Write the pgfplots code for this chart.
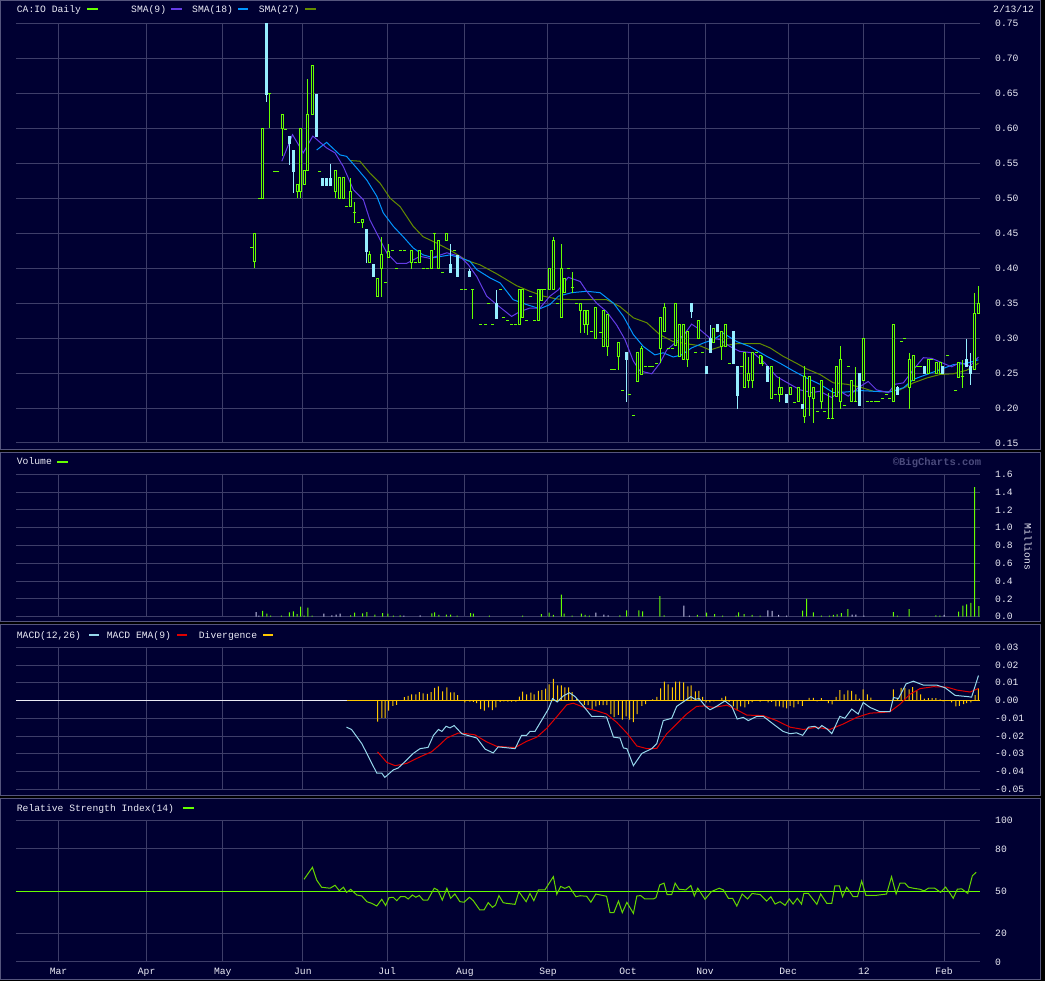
\documentclass[border=0pt]{standalone}
\usepackage{pgfplots}
\usepackage{pgfplotstable}
\pgfplotsset{compat=1.18}
\usepackage{fontspec}
\newfontfamily\mono{Liberation Mono}
\newcommand\tf{\mono\fontsize{9.7}{11}\selectfont}
\definecolor{cbg}{RGB}{0,0,50}
\definecolor{cgrid}{RGB}{62,62,105}
\definecolor{cborder}{RGB}{85,85,125}
\definecolor{cgreen}{RGB}{102,255,0}
\definecolor{ccyan}{RGB}{150,238,255}
\definecolor{cwhite}{RGB}{235,235,245}
\definecolor{csmaa}{RGB}{100,60,230}
\definecolor{csmab}{RGB}{0,150,255}
\definecolor{csmac}{RGB}{100,140,0}
\definecolor{cmacd}{RGB}{150,215,235}
\definecolor{cema}{RGB}{225,0,0}
\definecolor{cdiv}{RGB}{255,200,0}
\definecolor{crsi}{RGB}{102,215,0}
\definecolor{cvolw}{RGB}{200,200,235}
\definecolor{cwm}{RGB}{75,75,125}

% candles: x = trading day index; l h = low high; bl bh = body low/high
\pgfplotstableread{
x l h bl bh
62.4 0.40 0.45 0.41 0.45
64.4 0.50 0.60 0.50 0.60
69.5 0.56 0.62 0.60 0.62
73.4 0.50 0.52 0.51 0.52
74.3 0.50 0.60 0.51 0.60
75.2 0.52 0.54 0.52 0.54
76.1 0.54 0.67 0.54 0.62
77.4 0.62 0.69 0.62 0.69
83.4 0.50 0.54 0.51 0.54
84.4 0.50 0.53 0.50 0.53
85.5 0.50 0.53 0.50 0.53
87.3 0.488 0.529 0.488 0.509
90.5 0.458 0.469 0.465 0.469
92.2 0.408 0.424 0.408 0.419
94.4 0.359 0.385 0.359 0.385
95.4 0.359 0.445 0.399 0.419
97.2 0.415 0.435 0.415 0.424
103.3 0.399 0.425 0.408 0.425
105.4 0.408 0.425 0.408 0.425
108.5 0.399 0.425 0.399 0.425
110.3 0.399 0.439 0.399 0.439
112.4 0.439 0.449 0.439 0.449
131.4 0.319 0.369 0.319 0.369
132.2 0.329 0.369 0.329 0.369
136.4 0.325 0.369 0.325 0.369
137.1 0.354 0.369 0.354 0.369
139.3 0.369 0.399 0.369 0.399
140.3 0.369 0.445 0.369 0.439
142.5 0.329 0.435 0.329 0.399
143.2 0.365 0.385 0.365 0.385
147.3 0.308 0.349 0.339 0.349
148.4 0.308 0.339 0.319 0.339
149.2 0.304 0.339 0.319 0.339
151.3 0.299 0.344 0.299 0.344
153.4 0.288 0.339 0.288 0.339
154.4 0.274 0.334 0.288 0.334
157.2 0.255 0.294 0.274 0.294
162.3 0.238 0.279 0.238 0.279
163.3 0.248 0.289 0.248 0.285
168.2 0.265 0.329 0.285 0.329
169.3 0.309 0.350 0.309 0.344
172.1 0.289 0.349 0.289 0.349
173.2 0.274 0.319 0.274 0.319
174.2 0.269 0.319 0.269 0.319
175.3 0.259 0.309 0.269 0.309
178.2 0.299 0.325 0.299 0.325
182.2 0.294 0.314 0.294 0.314
184.2 0.269 0.309 0.288 0.309
185.3 0.288 0.319 0.288 0.319
190.2 0.229 0.279 0.229 0.279
191.3 0.229 0.273 0.239 0.249
192.3 0.229 0.279 0.239 0.279
194.4 0.264 0.275 0.264 0.275
197.2 0.214 0.259 0.214 0.259
199.3 0.208 0.245 0.219 0.229
200.0 0.219 0.229 0.219 0.229
202.2 0.219 0.229 0.219 0.229
204.2 0.209 0.229 0.209 0.229
206.0 0.179 0.260 0.188 0.245
207.1 0.188 0.245 0.217 0.245
208.1 0.179 0.229 0.214 0.229
210.3 0.199 0.239 0.209 0.239
214.2 0.217 0.259 0.217 0.259
215.2 0.199 0.289 0.209 0.269
218.1 0.209 0.239 0.209 0.239
221.2 0.239 0.299 0.239 0.299
229.1 0.209 0.319 0.209 0.319
233.3 0.199 0.279 0.229 0.269
234.3 0.239 0.275 0.239 0.275
238.3 0.249 0.269 0.249 0.269
240.4 0.249 0.265 0.249 0.265
241.3 0.249 0.265 0.249 0.265
246.1 0.244 0.265 0.244 0.265
250.2 0.255 0.365 0.255 0.335
251.3 0.335 0.375 0.335 0.349
}\greentab

\pgfplotstableread{
x l h bl bh
65.4 0.638 0.76 0.648 0.76
71.5 0.548 0.589 0.579 0.589
72.4 0.508 0.569 0.538 0.569
78.4 0.588 0.648 0.588 0.648
80.1 0.518 0.529 0.518 0.529
81.1 0.518 0.529 0.518 0.529
82.2 0.518 0.549 0.518 0.529
91.5 0.408 0.455 0.424 0.455
93.3 0.388 0.405 0.388 0.405
113.4 0.394 0.435 0.394 0.405
115.2 0.388 0.418 0.388 0.418
118.4 0.388 0.399 0.388 0.395
125.4 0.328 0.369 0.328 0.349
159.3 0.208 0.279 0.269 0.279
176.3 0.329 0.349 0.338 0.349
180.2 0.249 0.259 0.249 0.259
181.3 0.279 0.319 0.279 0.299
183.1 0.309 0.319 0.309 0.319
187.3 0.264 0.309 0.264 0.309
188.3 0.198 0.259 0.218 0.259
196.3 0.238 0.259 0.238 0.259
201.1 0.208 0.219 0.208 0.219
205.3 0.199 0.205 0.199 0.205
220.2 0.204 0.249 0.204 0.249
230.2 0.219 0.232 0.219 0.229
237.2 0.249 0.259 0.249 0.259
242.0 0.249 0.259 0.249 0.259
248.1 0.259 0.299 0.259 0.269
249.2 0.233 0.279 0.249 0.259
}\cyantab

\pgfplotstableread{
x y l h
61.4 0.429 0.429 0.429
63.5 0.499 0.499 0.499
66.3 0.650 0.600 0.650
67.4 0.539 0.539 0.539
68.4 0.539 0.539 0.539
70.3 0.599 0.599 0.599
79.3 0.539 0.539 0.539
86.2 0.488 0.488 0.488
88.3 0.479 0.464 0.495
89.3 0.465 0.465 0.465
96.4 0.379 0.379 0.379
98.3 0.425 0.425 0.425
99.3 0.399 0.399 0.399
100.4 0.425 0.425 0.425
101.4 0.425 0.425 0.425
104.3 0.408 0.408 0.408
106.4 0.399 0.399 0.399
107.4 0.399 0.399 0.399
109.2 0.449 0.426 0.449
111.3 0.394 0.394 0.394
114.4 0.425 0.425 0.425
116.4 0.369 0.369 0.369
117.4 0.369 0.369 0.369
119.3 0.369 0.328 0.369
121.4 0.319 0.319 0.319
122.5 0.319 0.319 0.319
123.4 0.349 0.349 0.349
124.4 0.319 0.319 0.319
126.6 0.369 0.369 0.369
127.3 0.329 0.329 0.329
128.3 0.325 0.325 0.325
129.4 0.319 0.319 0.319
130.4 0.319 0.319 0.319
133.3 0.325 0.325 0.325
134.4 0.359 0.359 0.359
135.3 0.325 0.325 0.325
138.1 0.369 0.369 0.369
141.4 0.349 0.349 0.349
144.2 0.399 0.399 0.399
145.2 0.372 0.365 0.395
146.4 0.349 0.349 0.349
150.3 0.309 0.309 0.309
152.6 0.308 0.308 0.308
155.4 0.255 0.255 0.255
156.2 0.255 0.255 0.255
158.3 0.225 0.225 0.225
160.2 0.219 0.219 0.219
161.2 0.189 0.189 0.189
164.4 0.259 0.259 0.259
165.4 0.259 0.259 0.259
166.3 0.259 0.259 0.259
167.3 0.264 0.264 0.264
170.3 0.285 0.285 0.285
171.3 0.285 0.285 0.285
177.3 0.279 0.279 0.279
179.2 0.279 0.279 0.279
186.3 0.264 0.264 0.264
189.3 0.259 0.259 0.259
193.3 0.279 0.279 0.279
195.0 0.264 0.260 0.275
198.2 0.219 0.219 0.219
203.2 0.208 0.208 0.208
209.3 0.195 0.195 0.195
211.2 0.195 0.195 0.195
212.1 0.185 0.185 0.222
213.1 0.185 0.185 0.229
216.4 0.204 0.204 0.204
217.3 0.259 0.259 0.259
219.3 0.209 0.209 0.259
222.3 0.209 0.209 0.209
223.3 0.209 0.209 0.209
224.3 0.209 0.209 0.209
225.3 0.209 0.209 0.209
226.3 0.214 0.214 0.214
227.2 0.219 0.219 0.219
228.0 0.214 0.214 0.214
231.2 0.295 0.295 0.295
232.1 0.299 0.299 0.299
235.3 0.259 0.259 0.259
236.2 0.259 0.259 0.259
239.1 0.269 0.269 0.269
243.3 0.275 0.275 0.275
245.4 0.225 0.225 0.225
247.2 0.245 0.228 0.269
}\dojitab

\pgfplotstableread{
x v
64.4 0.064
65.5 0.034
66.5 0.011
69.3 0.011
71.4 0.049
72.4 0.060
73.4 0.030
74.3 0.112
75.2 0.011
76.2 0.101
77.3 0.011
87.4 0.015
88.4 0.045
90.5 0.037
91.6 0.052
93.7 0.022
95.7 0.041
97.1 0.034
98.5 0.011
100.3 0.015
108.6 0.037
109.3 0.049
110.4 0.019
112.4 0.022
113.5 0.022
115.2 0.011
118.7 0.041
119.4 0.034
123.6 0.011
132.3 0.011
137.2 0.030
139.2 0.045
140.3 0.019
142.4 0.247
143.1 0.034
145.2 0.011
147.6 0.034
148.6 0.019
149.7 0.011
157.7 0.015
159.4 0.071
162.6 0.071
163.6 0.060
168.1 0.232
169.2 0.015
177.9 0.019
180.3 0.045
182.4 0.030
184.5 0.011
188.0 0.011
188.7 0.049
190.1 0.030
192.2 0.019
194.3 0.011
205.4 0.067
206.4 0.199
208.2 0.049
210.3 0.011
212.4 0.011
213.4 0.019
214.4 0.026
215.5 0.041
217.2 0.086
229.1 0.052
230.1 0.011
233.2 0.086
240.2 0.015
241.2 0.011
246.1 0.056
247.2 0.124
248.2 0.139
249.3 0.154
250.3 1.457
251.4 0.120
}\volgreen

\pgfplotstableread{
x v
62.7 0.052
63.4 0.011
80.4 0.034
82.5 0.015
83.6 0.022
84.6 0.034
101.3 0.011
105.5 0.015
151.4 0.045
153.5 0.022
154.6 0.015
174.4 0.124
175.8 0.011
196.3 0.071
197.4 0.064
199.1 0.019
201.2 0.011
218.3 0.022
219.3 0.022
221.4 0.011
242.3 0.019
}\volwhite

\pgfplotstableread{
x d
94.4 -0.0119
95.5 -0.0098
96.4 -0.0098
97.3 -0.0057
98.4 -0.0030
99.4 -0.0024
101.4 0.0019
102.4 0.0026
103.3 0.0035
104.4 0.0035
105.3 0.0048
106.3 0.0041
107.4 0.0037
108.4 0.0048
109.3 0.0072
110.3 0.0080
111.4 0.0052
112.5 0.0074
113.5 0.0046
114.4 0.0046
115.3 0.0031
117.2 -0.0011
118.5 -0.0006
119.4 -0.0007
120.3 -0.0015
121.3 -0.0048
122.3 -0.0057
123.4 -0.0039
124.4 -0.0054
125.3 -0.0039
126.4 -0.0007
127.4 -0.0004
128.4 -0.0006
129.4 -0.0006
130.5 -0.0006
131.4 0.0022
132.3 0.0050
133.3 0.0035
134.4 0.0044
135.3 0.0035
136.4 0.0054
137.3 0.0059
138.3 0.0067
139.2 0.0091
140.3 0.0122
141.4 0.0085
142.4 0.0085
143.3 0.0074
144.3 0.0074
145.2 0.0048
146.4 0.0011
147.4 -0.0002
148.4 -0.0024
149.4 -0.0026
150.4 -0.0048
151.4 -0.0033
152.3 -0.0026
153.3 -0.0026
154.3 -0.0026
155.3 -0.0076
156.2 -0.0094
157.3 -0.0081
158.3 -0.0107
159.3 -0.0089
160.2 -0.0107
161.2 -0.0122
162.2 -0.0076
163.4 -0.0030
164.4 -0.0020
166.2 0.0007
167.3 0.0020
168.3 0.0069
169.3 0.0107
170.3 0.0091
171.4 0.0074
172.2 0.0107
173.3 0.0107
174.3 0.0102
175.4 0.0080
176.3 0.0085
177.4 0.0052
178.3 0.0054
179.3 0.0020
180.2 -0.0011
181.2 -0.0011
182.2 -0.0004
183.3 -0.0002
184.3 0.0015
185.3 0.0024
186.2 -0.0007
187.3 -0.0033
188.3 -0.0057
189.2 -0.0033
190.3 -0.0039
191.3 -0.0020
192.2 -0.0009
194.3 -0.0006
195.3 -0.0002
196.4 -0.0011
197.3 -0.0007
198.4 -0.0033
199.3 -0.0033
200.3 -0.0039
201.2 -0.0044
202.1 -0.0030
203.1 -0.0039
204.2 -0.0020
205.3 -0.0030
207.1 0.0015
208.2 0.0015
209.2 -0.0004
210.3 0.0013
212.1 -0.0015
213.1 -0.0022
214.1 0.0020
215.1 0.0059
216.2 0.0035
217.2 0.0057
218.2 0.0054
219.3 0.0035
220.2 0.0011
221.2 0.0063
222.3 0.0035
223.2 0.0017
229.1 0.0063
230.1 0.0015
231.1 0.0072
232.1 0.0072
233.2 0.0063
234.1 0.0076
235.2 0.0054
236.2 0.0035
237.2 0.0011
238.2 0.0013
239.2 0.0013
240.2 0.0013
241.3 0.0007
242.1 -0.0004
244.3 -0.0011
245.4 -0.0033
246.3 -0.0030
247.4 -0.0020
248.2 -0.0015
249.3 -0.0011
250.4 0.0030
251.3 0.0069
}\divtab

\pgfplotsset{
  panel/.style={
    scale only axis, width=964pt, xmin=0, xmax=251.7,
    anchor=south west,
    axis line style={draw=none},
    major tick length=0pt, tick style={draw=none},
    xmajorgrids, ymajorgrids,
    grid style={draw=cgrid, line width=1pt},
    xtick={11.1,34.1,54.0,74.9,96.9,117.2,138.9,159.8,179.9,201.6,221.4,242.3},
    xticklabels={},
    scaled y ticks=false,
    yticklabel pos=right,
    yticklabel style={anchor=west, inner sep=0pt, xshift=15pt, font=\tf, text=cwhite},
    /pgf/number format/assume math mode=true,
    clip=true,
  },
  dec/.style={/pgf/number format/fixed, /pgf/number format/fixed zerofill, /pgf/number format/precision=#1},
}

\begin{document}
\begin{tikzpicture}
\useasboundingbox (0,0) rectangle (1045pt,981pt);
\fill[black] (0,0) rectangle (1045pt,981pt);
\fill[cbg, draw=cborder, line width=1pt] (0.5pt,531pt) rectangle (1040.5pt,980.5pt);
\fill[cbg, draw=cborder, line width=1pt] (0.5pt,359pt) rectangle (1040.5pt,528.5pt);
\fill[cbg, draw=cborder, line width=1pt] (0.5pt,185.5pt) rectangle (1040.5pt,356.5pt);
\fill[cbg, draw=cborder, line width=1pt] (0.5pt,1.5pt) rectangle (1040.5pt,182.5pt);

% ---------- price ----------
\begin{axis}[panel, dec=2, at={(16pt,538pt)}, height=419.5pt, ymin=0.15, ymax=0.75,
  ytick={0.15,0.2,0.25,0.3,0.35,0.4,0.45,0.5,0.55,0.6,0.65,0.7,0.75}]
% moving averages
\addplot[csmac, line width=1pt] coordinates {
(87.2,0.554) (89.8,0.553) (92.4,0.536) (95.0,0.522) (97.7,0.500) (100.3,0.488) (103.7,0.460) (106.3,0.445) (109.8,0.436) (113.3,0.426) (117.7,0.411) (121.1,0.405) (125.5,0.392) (130.7,0.375) (134.2,0.367) (137.7,0.360) (141.2,0.356) (145.5,0.355) (150.7,0.355) (154.2,0.355) (157.7,0.345) (161.2,0.329) (164.7,0.322) (168.1,0.305) (171.6,0.295) (175.1,0.292) (178.6,0.289) (181.2,0.283) (184.7,0.289) (188.2,0.292) (194.3,0.292) (196.9,0.286) (200.3,0.274) (203.8,0.264) (206.4,0.256) (209.9,0.248) (213.4,0.236) (216.9,0.234) (220.4,0.230) (223.8,0.224) (227.3,0.223) (230.8,0.226) (234.3,0.236) (237.8,0.243) (241.3,0.248) (244.7,0.249) (248.2,0.254) (251.3,0.264)};
\addplot[csmab, line width=1pt] coordinates {
(78.5,0.569) (81.1,0.580) (84.6,0.562) (86.3,0.560) (89.0,0.543) (91.6,0.526) (94.2,0.503) (95.9,0.479) (98.5,0.460) (101.1,0.445) (103.7,0.429) (106.3,0.419) (109.0,0.415) (113.3,0.419) (115.9,0.415) (118.5,0.410) (120.3,0.398) (123.8,0.386) (126.4,0.379) (129.8,0.355) (133.3,0.348) (136.8,0.342) (139.4,0.348) (141.6,0.360) (145.1,0.365) (149.0,0.367) (152.5,0.365) (156.0,0.350) (158.6,0.331) (161.2,0.305) (163.8,0.288) (166.8,0.276) (169.0,0.279) (171.6,0.273) (173.8,0.276) (176.4,0.286) (179.5,0.293) (182.1,0.298) (184.7,0.307) (188.2,0.295) (191.6,0.288) (196.0,0.274) (199.5,0.264) (203.0,0.253) (206.4,0.243) (209.9,0.234) (213.4,0.222) (216.9,0.223) (220.4,0.225) (223.8,0.224) (228.2,0.223) (231.7,0.229) (234.3,0.241) (237.8,0.248) (241.3,0.255) (244.7,0.262) (248.2,0.264) (251.3,0.269)};
\addplot[csmaa, line width=1pt] coordinates {
(69.4,0.553) (72.2,0.591) (75.0,0.565) (77.5,0.589) (81.1,0.572) (83.3,0.565) (85.5,0.545) (88.1,0.512) (90.7,0.498) (92.4,0.469) (94.2,0.450) (96.8,0.422) (99.4,0.407) (102.0,0.407) (105.5,0.417) (108.1,0.414) (112.5,0.422) (115.9,0.417) (118.1,0.405) (120.3,0.388) (122.9,0.360) (125.5,0.348) (129.4,0.331) (131.6,0.338) (134.2,0.343) (136.8,0.343) (139.4,0.360) (141.6,0.369) (144.2,0.387) (147.3,0.381) (149.0,0.367) (151.6,0.350) (154.2,0.338) (156.8,0.319) (159.0,0.298) (161.2,0.267) (162.9,0.253) (166.0,0.249) (168.1,0.264) (169.9,0.283) (172.5,0.295) (174.7,0.307) (176.4,0.320) (178.6,0.312) (181.2,0.300) (183.8,0.298) (186.4,0.288) (189.0,0.281) (192.5,0.279) (195.6,0.264) (198.6,0.245) (202.1,0.234) (204.7,0.226) (207.8,0.222) (209.9,0.224) (213.0,0.215) (215.1,0.224) (217.3,0.217) (219.9,0.229) (222.5,0.238) (224.7,0.226) (227.8,0.222) (229.5,0.234) (231.7,0.236) (234.3,0.255) (236.9,0.272) (239.1,0.271) (242.1,0.264) (244.3,0.259) (246.5,0.265) (249.1,0.260) (251.3,0.273)};
% wicks
\addplot[draw=none, error bars/.cd, y dir=both, y explicit, error mark=none,
  error bar style={draw=cgreen, line width=1pt}]
  table[x=x, y expr=(\thisrow{l}+\thisrow{h})/2, y error expr=(\thisrow{h}-\thisrow{l})/2]{\greentab};
\addplot[draw=none, error bars/.cd, y dir=both, y explicit, error mark=none,
  error bar style={draw=cgreen, line width=1pt}]
  table[x=x, y expr=(\thisrow{l}+\thisrow{h})/2, y error expr=(\thisrow{h}-\thisrow{l})/2]{\dojitab};
\addplot[draw=none, error bars/.cd, y dir=both, y explicit, error mark=none,
  error bar style={draw=ccyan, line width=1pt}]
  table[x=x, y expr=(\thisrow{l}+\thisrow{h})/2, y error expr=(\thisrow{h}-\thisrow{l})/2]{\cyantab};
% bodies
\addplot[draw=none, error bars/.cd, y dir=both, y explicit, error mark=none,
  error bar style={draw=cgreen, line width=3pt}]
  table[x=x, y expr=(\thisrow{bl}+\thisrow{bh})/2, y error expr=(\thisrow{bh}-\thisrow{bl})/2+0.0007]{\greentab};
\addplot[draw=none, error bars/.cd, y dir=both, y explicit, error mark=none,
  error bar style={draw=cbg, line width=1pt}]
  table[x=x, y expr=(\thisrow{bl}+\thisrow{bh})/2, y error expr={max(0,(\thisrow{bh}-\thisrow{bl})/2-0.0007)}]{\greentab};
\addplot[draw=none, error bars/.cd, y dir=both, y explicit, error mark=none,
  error bar style={draw=ccyan, line width=3pt}]
  table[x=x, y expr=(\thisrow{bl}+\thisrow{bh})/2, y error expr=(\thisrow{bh}-\thisrow{bl})/2+0.0007]{\cyantab};
\addplot[only marks, mark=-, mark size=1.5pt, cgreen, mark options={line width=1pt}]
  table[x=x, y=y]{\dojitab};
\end{axis}

% ---------- volume ----------
\begin{axis}[panel, dec=1, at={(16pt,364.3pt)}, height=142.4pt, ymin=0, ymax=1.6,
  ytick={0,0.2,0.4,0.6,0.8,1.0,1.2,1.4,1.6}]
\addplot[ybar, bar width=1pt, fill=cgreen, draw=none] table[x=x, y=v]{\volgreen};
\addplot[ybar, bar width=1pt, fill=cvolw, draw=none] table[x=x, y=v]{\volwhite};
\end{axis}

% ---------- MACD ----------
\begin{axis}[panel, dec=2, at={(16pt,191.7pt)}, height=142pt, ymin=-0.05, ymax=0.03,
  ytick={-0.05,-0.04,-0.03,-0.02,-0.01,0,0.01,0.02,0.03}]
\addplot[cwhite, line width=1pt] coordinates {(0,0) (86.3,0)};
\addplot[cdiv, line width=1pt] coordinates {(86.3,0) (251.7,0)};
\addplot[ybar, bar width=1pt, fill=cdiv, draw=none] table[x=x, y=d]{\divtab};
\addplot[cema, line width=1pt] coordinates {
(94.4,-0.0289) (96.8,-0.0348) (99.0,-0.0367) (102.0,-0.0354) (105.5,-0.0317) (108.5,-0.0289) (110.7,-0.0248) (112.5,-0.0211) (115.5,-0.0183) (117.7,-0.0187) (119.8,-0.0193) (122.9,-0.0233) (125.5,-0.0258) (130.3,-0.0265) (133.3,-0.0230) (136.0,-0.0206) (138.6,-0.0156) (141.2,-0.0091) (143.8,-0.0024) (145.5,-0.0015) (149.0,-0.0044) (151.6,-0.0058) (154.2,-0.0076) (156.8,-0.0122) (159.5,-0.0183) (162.1,-0.0256) (164.7,-0.0271) (167.3,-0.0270) (169.9,-0.0187) (172.5,-0.0132) (175.1,-0.0076) (177.7,-0.0033) (179.9,-0.0030) (182.1,-0.0039) (185.6,-0.0026) (188.2,-0.0052) (190.8,-0.0082) (195.1,-0.0085) (198.6,-0.0113) (202.1,-0.0150) (205.6,-0.0163) (209.1,-0.0150) (212.5,-0.0163) (216.0,-0.0132) (219.5,-0.0095) (223.0,-0.0071) (226.4,-0.0067) (228.2,-0.0063) (230.8,-0.0021) (233.4,0.0035) (236.0,0.0067) (239.5,0.0078) (243.0,0.0076) (245.7,0.0059) (249.1,0.0048) (251.3,0.0068)};
\addplot[cmacd, line width=1pt] coordinates {
(86.3,-0.0150) (87.6,-0.0163) (90.3,-0.0243) (91.6,-0.0298) (94.2,-0.0409) (95.5,-0.0409) (96.3,-0.0433) (98.5,-0.0391) (99.8,-0.0380) (102.0,-0.0335) (103.7,-0.0298) (105.5,-0.0271) (107.6,-0.0264) (109.0,-0.0196) (110.3,-0.0163) (111.2,-0.0174) (112.3,-0.0145) (113.3,-0.0154) (114.4,-0.0141) (116.4,-0.0187) (118.5,-0.0200) (120.3,-0.0211) (122.5,-0.0274) (124.6,-0.0295) (125.9,-0.0261) (130.3,-0.0271) (132.0,-0.0196) (133.3,-0.0196) (134.2,-0.0174) (135.5,-0.0174) (137.7,-0.0095) (139.0,-0.0048) (140.1,0.0011) (141.3,-0.0008) (142.9,0.0026) (144.5,0.0044) (146.0,0.0022) (148.1,-0.0030) (150.3,-0.0089) (152.5,-0.0089) (154.2,-0.0093) (156.0,-0.0206) (157.7,-0.0211) (158.6,-0.0267) (159.5,-0.0271) (161.2,-0.0367) (163.4,-0.0298) (166.0,-0.0271) (167.3,-0.0243) (169.0,-0.0113) (171.2,-0.0100) (172.5,-0.0033) (174.2,-0.0008) (176.2,0.0022) (177.3,0.0007) (178.4,0.0011) (179.9,-0.0030) (181.2,-0.0052) (182.9,-0.0033) (185.1,-0.0002) (186.9,-0.0033) (188.3,-0.0104) (189.9,-0.0095) (191.2,-0.0113) (193.4,-0.0089) (195.1,-0.0089) (197.7,-0.0132) (200.3,-0.0174) (202.1,-0.0187) (203.8,-0.0182) (205.4,-0.0196) (206.9,-0.0150) (208.6,-0.0145) (209.5,-0.0159) (210.4,-0.0141) (211.7,-0.0159) (213.0,-0.0187) (215.1,-0.0089) (216.4,-0.0100) (218.2,-0.0048) (219.9,-0.0076) (221.2,-0.0011) (223.0,-0.0039) (225.6,-0.0063) (228.2,-0.0063) (229.1,0.0017) (230.4,0.0011) (232.4,0.0094) (234.3,0.0109) (236.9,0.0087) (240.4,0.0087) (242.6,0.0072) (245.2,0.0029) (248.6,0.0022) (249.5,0.0019) (251.3,0.0141)};
\end{axis}

% ---------- RSI ----------
\begin{axis}[panel, at={(16pt,19pt)}, height=141.3pt, ymin=0, ymax=100,
  ytick={0,20,50,80,100},
  xticklabels={Mar,Apr,May,Jun,Jul,Aug,Sep,Oct,Nov,Dec,12,Feb},
  xticklabel style={anchor=base, inner sep=0pt, yshift=-13pt, font=\tf, text=cwhite}]
\addplot[cgreen, line width=1pt] coordinates {(0,50) (251.7,50)};
\addplot[crsi, line width=1pt] coordinates {
(75.2,58.5) (77.4,67) (78.5,58) (79.8,52.9) (82.0,52.2) (83.3,54.3) (84.4,50.5) (85.5,52.9) (86.3,49.3) (87.4,51.4) (89.0,47.4) (90.3,46.7) (91.6,42.7) (92.9,41.5) (94.2,39.6) (95.5,44.4) (96.5,40) (97.4,45.5) (98.5,45.8) (99.4,43.4) (100.4,46.3) (101.6,46.2) (102.4,44.6) (103.5,47.4) (104.4,45.8) (105.3,47.1) (106.3,43.8) (107.5,43.8) (109.2,52.2) (110.1,51) (111.3,43.8) (112.5,52.2) (113.5,45.1) (114.6,48.1) (115.9,42.7) (117.0,42.3) (118.4,45.8) (119.4,43.4) (121.1,36.8) (122.2,36.8) (123.3,42) (124.4,38.7) (125.2,40.3) (126.1,47) (127.2,42) (128.1,41.5) (130.3,40.8) (131.3,49.7) (133.2,42.7) (134.2,48.5) (135.2,43.4) (136.4,51) (138.1,51) (140.3,60.4) (141.2,47.9) (142.2,53.5) (143.3,52.1) (144.4,53.5) (146.2,46.2) (147.3,46.9) (149.0,46.5) (150.1,42.3) (151.4,48.1) (154.2,46.5) (155.1,34.9) (156.1,34.9) (157.3,43.1) (158.3,34.9) (159.5,42.2) (161.2,34.4) (162.1,46.7) (163.1,47) (164.2,44.6) (166.4,44.6) (167.1,45.6) (168.1,54.6) (169.2,55.8) (170.0,47.7) (171.2,47.7) (172.1,55.8) (173.1,51.5) (174.9,51) (176.2,54.1) (177.1,46.7) (178.0,52.2) (179.9,44.4) (181.6,49.9) (183.6,52.2) (184.7,51) (186.0,45.1) (187.1,45.1) (188.2,39.6) (189.6,48.1) (191.0,44.6) (192.2,48.5) (194.3,47.7) (196.0,43.1) (197.1,46.2) (198.2,41) (199.5,42.7) (200.8,40.1) (201.9,44.6) (202.9,41) (204.0,45.1) (205.1,41) (205.7,48.5) (206.9,48.5) (209.1,40.8) (210.1,48.1) (211.7,41.5) (213.0,41.5) (213.8,53.8) (215.0,53.8) (215.8,46.2) (216.9,52.9) (218.6,46.2) (219.7,46.2) (220.8,57.3) (221.9,47.2) (224.7,47.2) (227.3,48.1) (228.6,60.4) (229.8,48.1) (230.8,55.8) (232.1,55.8) (233.0,53) (234.3,52.2) (236.0,51.5) (237.1,50.3) (238.2,52.2) (239.9,52.2) (241.4,49.3) (242.7,53) (243.9,48.5) (244.7,45.1) (245.8,51.5) (246.9,51.8) (248.5,48.5) (249.7,61) (250.7,63.5)};
\end{axis}

% ---------- titles and legends ----------
\begin{scope}[every node/.style={font=\tf, text=cwhite, inner sep=0pt, anchor=base west}]
\node at (16.7pt,968.3pt) {CA:IO Daily};
\fill[cgreen] (87pt,970.7pt) rectangle (98pt,972.7pt);
\node at (131pt,968.3pt) {SMA(9)};
\fill[csmaa] (171pt,970.7pt) rectangle (181.7pt,972.7pt);
\node at (192pt,968.3pt) {SMA(18)};
\fill[csmab] (237.7pt,970.7pt) rectangle (248.3pt,972.7pt);
\node at (258.7pt,968.3pt) {SMA(27)};
\fill[csmac] (305pt,970.7pt) rectangle (315.7pt,972.7pt);
\node at (993pt,968.3pt) {2/13/12};

\node at (16.7pt,516pt) {Volume};
\fill[cgreen] (57pt,518.3pt) rectangle (68pt,520.3pt);
\node[font=\mono\bfseries\fontsize{10.5}{12}\selectfont, text=cwm, anchor=base east] at (981.3pt,515.5pt) {\textcopyright BigCharts.com};
\node[anchor=center, rotate=-90] at (1028pt,434pt) {Millions};

\node at (16.7pt,342.7pt) {MACD(12,26)};
\fill[cmacd] (88.7pt,344.5pt) rectangle (98.7pt,346.5pt);
\node at (106.7pt,342.7pt) {MACD EMA(9)};
\fill[cema] (176.7pt,344.5pt) rectangle (186.7pt,346.5pt);
\node at (198.7pt,342.7pt) {Divergence};
\fill[cdiv] (263.3pt,344.5pt) rectangle (273.3pt,346.5pt);

\node at (16.7pt,169.3pt) {Relative Strength Index(14)};
\fill[cgreen] (183.3pt,172pt) rectangle (194pt,174pt);
\end{scope}
\end{tikzpicture}
\end{document}
